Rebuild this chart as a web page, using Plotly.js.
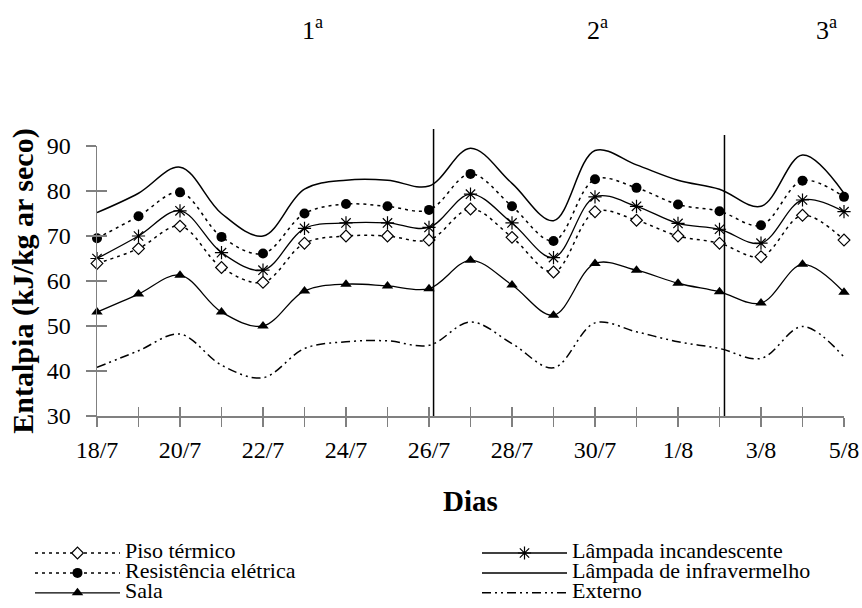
<!DOCTYPE html>
<html>
<head>
<meta charset="utf-8">
<script src="https://cdn.plot.ly/plotly-3.0.1.min.js"></script>
<style>html,body{margin:0;padding:0;background:#fff;}#chart{width:862px;height:608px;}</style>
</head>
<body>
<div id="chart"></div>
<script>
const dias = ['18/7','19/7','20/7','21/7','22/7','23/7','24/7','25/7','26/7','27/7','28/7','29/7','30/7','31/7','1/8','2/8','3/8','4/8','5/8'];
const rotulos = ['18/7','20/7','22/7','24/7','26/7','28/7','30/7','1/8','3/8','5/8'];
const yTicks = [30,40,50,60,70,80,90];

const piso = [63.9,67.2,72.2,63.0,59.7,68.4,70.0,70.0,69.1,76.0,69.7,62.0,75.4,73.5,70.0,68.4,65.4,74.6,69.1];
const resistencia = [69.5,74.4,79.7,69.8,66.1,75.0,77.1,76.6,75.8,83.8,76.6,68.9,82.6,80.7,77.0,75.5,72.4,82.3,78.7];
const sala = [53.1,57.1,61.3,53.1,50.0,57.8,59.3,58.9,58.3,64.6,59.1,52.4,63.9,62.4,59.5,57.6,55.1,63.7,57.5];
const incandescente = [65.0,70.0,75.6,66.3,62.4,71.7,72.9,72.9,71.9,79.3,72.9,65.2,78.7,76.6,72.8,71.5,68.4,78.0,75.4];
const infravermelho = [75.2,79.5,85.3,75.0,70.0,80.4,82.4,82.4,81.1,89.5,81.7,73.4,89.0,85.8,82.4,80.4,76.6,88.0,79.5];
const externo = [40.8,44.5,48.2,41.3,38.5,45.0,46.5,46.7,45.7,50.9,46.1,40.7,50.7,48.7,46.5,45.0,42.8,49.9,43.1];

const periodos = ['1<sup>a</sup>','2<sup>a</sup>','3<sup>a</sup>'];
const periodosX = [5.2, 12.07, 17.57];
const divisoes = [8.11, 15.12];
const divisoesTopo = [1.063, 1.041];

const FONT = 'Liberation Serif, Times New Roman, serif';
const leg = t => '<span style="font-size:22px">' + t + '</span>';
const xIdx = dias.map((d, i) => i);
const xMax = dias.length - 1;

const base = {x: xIdx, type: 'scatter', cliponaxis: false, hoverinfo: 'skip'};
const traces = [
  Object.assign({}, base, {y: infravermelho, name: leg('Lâmpada de infravermelho'), mode: 'lines', legend: 'legend2', legendrank: 2,
    line: {color: '#000', width: 1.5, shape: 'spline', smoothing: 1}}),
  Object.assign({}, base, {y: resistencia, name: leg('Resistência elétrica'), mode: 'lines+markers', legend: 'legend', legendrank: 2,
    line: {color: '#000', width: 1.5, dash: '3px,4px', shape: 'spline', smoothing: 1},
    marker: {symbol: 'circle', size: 10, color: '#000'}}),
  Object.assign({}, base, {y: incandescente, name: leg('Lâmpada incandescente'), mode: 'lines+markers', legend: 'legend2', legendrank: 1,
    line: {color: '#000', width: 1.3, shape: 'spline', smoothing: 1},
    marker: {symbol: 'asterisk-open', size: 11, color: '#000', line: {color: '#000', width: 1.2}}}),
  Object.assign({}, base, {y: piso, name: leg('Piso térmico'), mode: 'lines+markers', legend: 'legend', legendrank: 1,
    line: {color: '#000', width: 1.5, dash: '3px,4px', shape: 'spline', smoothing: 1},
    marker: {symbol: 'diamond', size: 9, color: '#fff', line: {color: '#000', width: 1.2}}}),
  Object.assign({}, base, {y: sala, name: leg('Sala'), mode: 'lines+markers', legend: 'legend', legendrank: 3,
    line: {color: '#000', width: 1.3, shape: 'spline', smoothing: 1},
    marker: {symbol: 'triangle-up', size: 10, color: '#000'}}),
  Object.assign({}, base, {y: externo, name: leg('Externo'), mode: 'lines', legend: 'legend2', legendrank: 3,
    xaxis: 'x2', yaxis: 'y2',
    line: {color: '#000', width: 1.5, dash: '9px,4px,2px,4px,2px,4px', shape: 'spline', smoothing: 1}})
];

const axisCommon = {
  showgrid: false, zeroline: false, automargin: false,
  tickcolor: '#808080', tickwidth: 1.3
};

const legendCommon = {
  orientation: 'v', xanchor: 'left', yanchor: 'top', itemwidth: 85,
  font: {family: FONT, size: 13, color: '#000'}, bgcolor: 'rgba(0,0,0,0)',
  tracegroupgap: 0, traceorder: 'normal', itemclick: false, itemdoubleclick: false
};

const layout = {
  width: 862, height: 608,
  margin: {l: 97, r: 18, t: 146, b: 192, autoexpand: false},
  paper_bgcolor: '#fff', plot_bgcolor: '#fff',
  font: {family: FONT, color: '#000'},
  showlegend: true,
  xaxis: Object.assign({}, axisCommon, {
    range: [0, xMax],
    tickmode: 'array', tickvals: rotulos.map(r => dias.indexOf(r)), ticktext: rotulos,
    ticks: 'outside', ticklen: 9, ticklabelstandoff: 3,
    minor: {tickmode: 'linear', tick0: 0, dtick: 1, ticks: 'outside', ticklen: 9, tickcolor: '#808080', tickwidth: 1.3, showgrid: false},
    showline: true, linecolor: '#808080', linewidth: 1.5,
    tickfont: {family: FONT, size: 24, color: '#000'},
    title: {text: 'Dias', standoff: 28, font: {family: FONT, size: 29, weight: 'bold', color: '#000'}}
  }),
  yaxis: Object.assign({}, axisCommon, {
    automargin: true,
    range: [yTicks[0], yTicks[yTicks.length - 1]], tickmode: 'array', tickvals: yTicks,
    ticks: 'outside', ticklen: 10, ticklabelstandoff: 10,
    showline: true, linecolor: '#808080', linewidth: 1.5,
    tickfont: {family: FONT, size: 24, color: '#000'},
    title: {text: 'Entalpia (kJ/kg ar seco)', standoff: 4, font: {family: FONT, size: 30, weight: 'bold', color: '#000'}}
  }),
  xaxis2: Object.assign({}, axisCommon, {
    overlaying: 'x', anchor: 'y2', matches: 'x', range: [0, xMax],
    tickmode: 'linear', tick0: 0, dtick: 1, ticks: 'inside', ticklen: 9,
    showticklabels: false, showline: false
  }),
  yaxis2: Object.assign({}, axisCommon, {
    overlaying: 'y', anchor: 'x2', side: 'left', matches: 'y',
    range: [yTicks[0], yTicks[yTicks.length - 1]], tickmode: 'array', tickvals: yTicks,
    ticks: 'inside', ticklen: 10, showticklabels: false, showline: false
  }),
  legend: Object.assign({}, legendCommon, {x: -0.0897, y: -0.452}),
  legend2: Object.assign({}, legendCommon, {x: 0.5087, y: -0.452}),
  shapes: divisoes.map((d, i) => ({
    type: 'line', xref: 'paper', yref: 'paper',
    x0: d / xMax, x1: d / xMax, y0: 0, y1: divisoesTopo[i],
    line: {color: '#000', width: 1.5}
  })),
  annotations: periodos.map((t, i) => ({
    text: t, xref: 'x', yref: 'paper', x: periodosX[i], y: 1.437,
    xanchor: 'center', yanchor: 'middle', showarrow: false,
    font: {family: FONT, size: 26, color: '#000'}
  }))
};

Plotly.newPlot('chart', traces, layout, {staticPlot: true, displayModeBar: false});
</script>
</body>
</html>
